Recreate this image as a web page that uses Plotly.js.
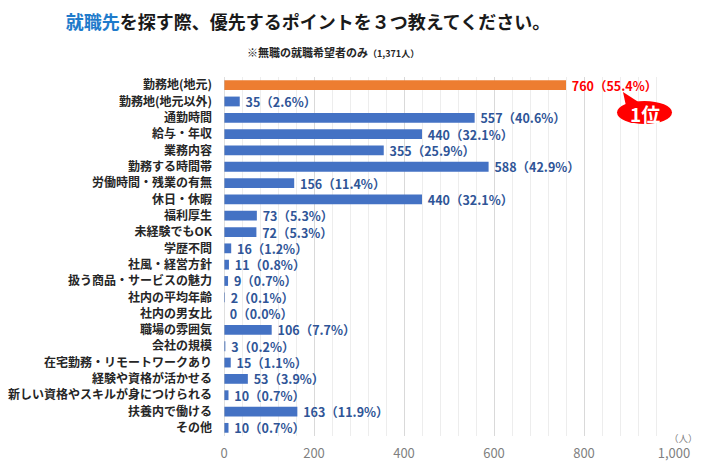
<!DOCTYPE html>
<html><head><meta charset="utf-8">
<script src="https://cdn.plot.ly/plotly-3.0.1.min.js"></script>
<style>html,body{margin:0;padding:0;background:#fff;}</style>
</head><body>
<div id="chart" style="width:704px;height:469px;"></div>
<script>
const categories = ["勤務地(地元)","勤務地(地元以外)","通勤時間","給与・年収","業務内容","勤務する時間帯","労働時間・残業の有無","休日・休暇","福利厚生","未経験でもOK","学歴不問","社風・経営方針","扱う商品・サービスの魅力","社内の平均年齢","社内の男女比","職場の雰囲気","会社の規模","在宅勤務・リモートワークあり","経験や資格が活かせる","新しい資格やスキルが身につけられる","扶養内で働ける","その他"];
const counts = [760,35,557,440,355,588,156,440,73,72,16,11,9,2,0,106,3,15,53,10,163,10];
const percents = ["55.4","2.6","40.6","32.1","25.9","42.9","11.4","32.1","5.3","5.3","1.2","0.8","0.7","0.1","0.0","7.7","0.2","1.1","3.9","0.7","11.9","0.7"];
const xTicks = [0,200,400,600,800,1000];
const xTickLabels = ["0","200","400","600","800","1,000"];

const F = '"Noto Sans CJK JP", "Noto Sans", sans-serif';
const barColors = counts.map((v,i)=> i===0 ? '#ED7D31' : '#4472C4');
const textColors = counts.map((v,i)=> i===0 ? '#FF0000' : '#2F5597');
const labels = counts.map((v,i)=> ' ' + v + '（' + percents[i] + '%）');

const trace = {
  type:'bar', orientation:'h',
  y: categories, x: counts,
  marker:{color: barColors},
  text: labels, textposition:'outside', constraintext:'none', cliponaxis:false,
  textfont:{family:F, size:12.5, color:textColors, weight:'bold'},
  hoverinfo:'none'
};

const layout = {
  width:704, height:469,
  margin:{l:224, r:30, t:77, b:33},
  paper_bgcolor:'#fff', plot_bgcolor:'#fff',
  showlegend:false, bargap:0.4,
  font:{family:F},
  title:{text:'<span style="color:#1F7BCB">就職先</span>を探す際、優先するポイントを３つ教えてください。',
    font:{family:F, size:18, color:'#1a1a1a', weight:'bold'}, x:308/704, xanchor:'center', y:1-23/469, yanchor:'middle'},
  xaxis:{range:[0,1000], tickvals:xTicks, ticktext:xTickLabels, showgrid:true, gridcolor:'#D9D9D9', gridwidth:1,
    minor:{dtick:40, showgrid:true, gridcolor:'#EDEDED', gridwidth:1},
    zeroline:false, showline:false, ticks:'', tickfont:{family:F, size:13, color:'#7F7F7F'}, ticklen:0, ticklabelstandoff:8, fixedrange:true},
  yaxis:{autorange:'reversed', type:'category', showgrid:false, zeroline:false, showline:false,
    ticks:'', ticklen:0, ticklabelstandoff:11, tickfont:{family:F, size:12, color:'#262626', weight:'bold'}, automargin:false},
  shapes:[
    {type:'line', xref:'x', yref:'paper', x0:0, x1:0, y0:0, y1:1, line:{color:'#BFBFBF', width:1}},
    {type:'circle', xref:'paper', yref:'paper', x0:(617-224)/450, x1:(672-224)/450, y0:(436-124)/359, y1:(436-101)/359,
      fillcolor:'#FF0000', line:{width:0}},
    {type:'path', xref:'paper', yref:'paper',
      path:'M '+((626-224)/450)+' '+((436-106)/359)+' L '+((623-224)/450)+' '+((436-92)/359)+' L '+((640-224)/450)+' '+((436-103)/359)+' Z',
      fillcolor:'#FF0000', line:{width:0}}
  ],
  annotations:[
    {xref:'paper', yref:'paper', x:(333-224)/450, y:(436-52)/359, xanchor:'center', yanchor:'middle', showarrow:false,
      text:'※無職の就職希望者のみ<span style="font-size:9px">（1,371人）</span>', font:{family:F, size:11, color:'#262626', weight:'bold'}},
    {xref:'paper', yref:'paper', x:(645-224)/450, y:(436-113)/359, xanchor:'center', yanchor:'middle', showarrow:false,
      text:'1位', font:{family:F, size:19, color:'#FFFFFF', weight:'bold'}},
    {xref:'paper', yref:'paper', x:(683-224)/450, y:(436-438)/359, xanchor:'center', yanchor:'middle', showarrow:false,
      text:'（人）', font:{family:F, size:9.5, color:'#7F7F7F'}}
  ]
};
Plotly.newPlot('chart',[trace],layout,{staticPlot:true, displayModeBar:false});
</script>
</body></html>
